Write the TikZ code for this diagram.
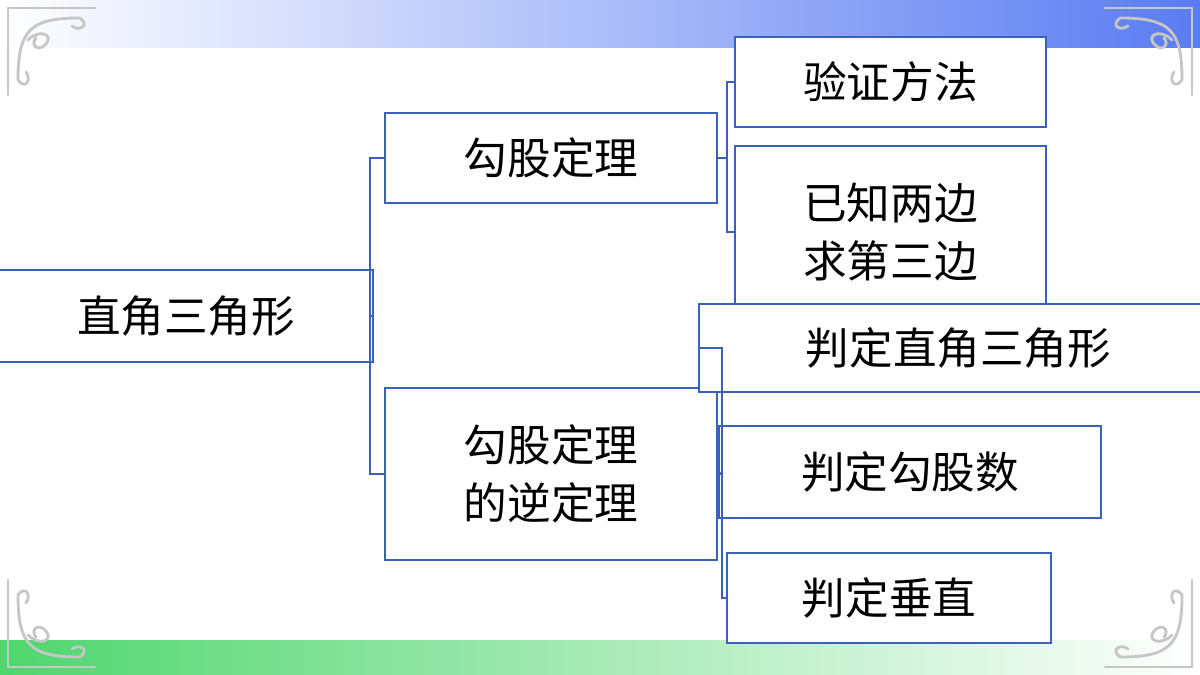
\documentclass[tikz,border=0pt]{standalone}
\usepackage{fontspec}
\setmainfont{Noto Sans CJK SC}
\begin{document}
\begin{tikzpicture}[x=0.025cm,y=-0.025cm,
  bx/.style={draw=lineblue,line width=1.5pt,fill=white,inner sep=0pt,font=\fontsize{31}{41}\selectfont,align=center},
  ln/.style={draw=lineblue,line width=1.5pt},
  orn/.style={draw=gray!45,line width=2pt,line cap=round}]
\definecolor{lineblue}{HTML}{3A62B8}
\definecolor{topblue}{HTML}{5A7CF2}
\definecolor{botgreen}{HTML}{4FD66E}
\useasboundingbox (0,0) rectangle (1200,675);
\fill[white] (0,0) rectangle (1200,675);
\shade[left color=white,right color=topblue] (0,0) rectangle (1200,48);
\shade[left color=botgreen,right color=white] (0,640) rectangle (1200,675);
% corner ornaments
\foreach \sx/\sy/\ox/\oy in {1/1/0/0,-1/1/1200/0,1/-1/0/675,-1/-1/1200/675}{
  \begin{scope}[shift={(\ox,\oy)},xscale=\sx,yscale=\sy]
    \draw[orn] (8,95) -- (8,8) -- (95,8);
    \draw[orn] (18,80) .. controls (18,30) and (30,18) .. (80,18);
    \draw[orn] (28,40) .. controls (40,28) and (55,35) .. (45,45) .. controls (38,52) and (30,45) .. (36,38);
    \draw[orn] (80,18) .. controls (90,25) and (80,32) .. (72,26);
    \draw[orn] (18,80) .. controls (25,90) and (32,80) .. (26,72);
  \end{scope}}
% boxes
\node[bx,minimum width=266,minimum height=65] (root) at (186,316) {直角三角形};
\node[bx,minimum width=236,minimum height=64] (a) at (551,158) {勾股定理};
\node[bx,minimum width=236,minimum height=122] (b) at (551,474) {勾股定理\\的逆定理};
\node[bx,minimum width=221,minimum height=64] (a1) at (890.5,82) {验证方法};
\node[bx,minimum width=221,minimum height=122] (a2) at (890.5,232) {已知两边\\求第三边};
\node[bx,minimum width=369,minimum height=63] (b1) at (958.5,348) {判定直角三角形};
\node[bx,minimum width=272,minimum height=65] (b2) at (910,472) {判定勾股数};
\node[bx,minimum width=230,minimum height=64] (b3) at (889,598) {判定垂直};
% connectors
\coordinate (j0) at (370,316);
\coordinate (j1) at (727,158);
\coordinate (j2) at (722,474);
\draw[ln] (root.east) -- (j0);
\draw[ln] (a.west) -| (j0) |- (b.west);
\draw[ln] (a.east) -- (j1);
\draw[ln] (a1.west) -| (j1) |- (a2.west);
\draw[ln] (b.east) -- (j2);
\draw[ln] (b1.west) -| (j2) |- (b3.west);
\draw[ln] (j2) -- (b2.west);
\end{tikzpicture}
\end{document}
